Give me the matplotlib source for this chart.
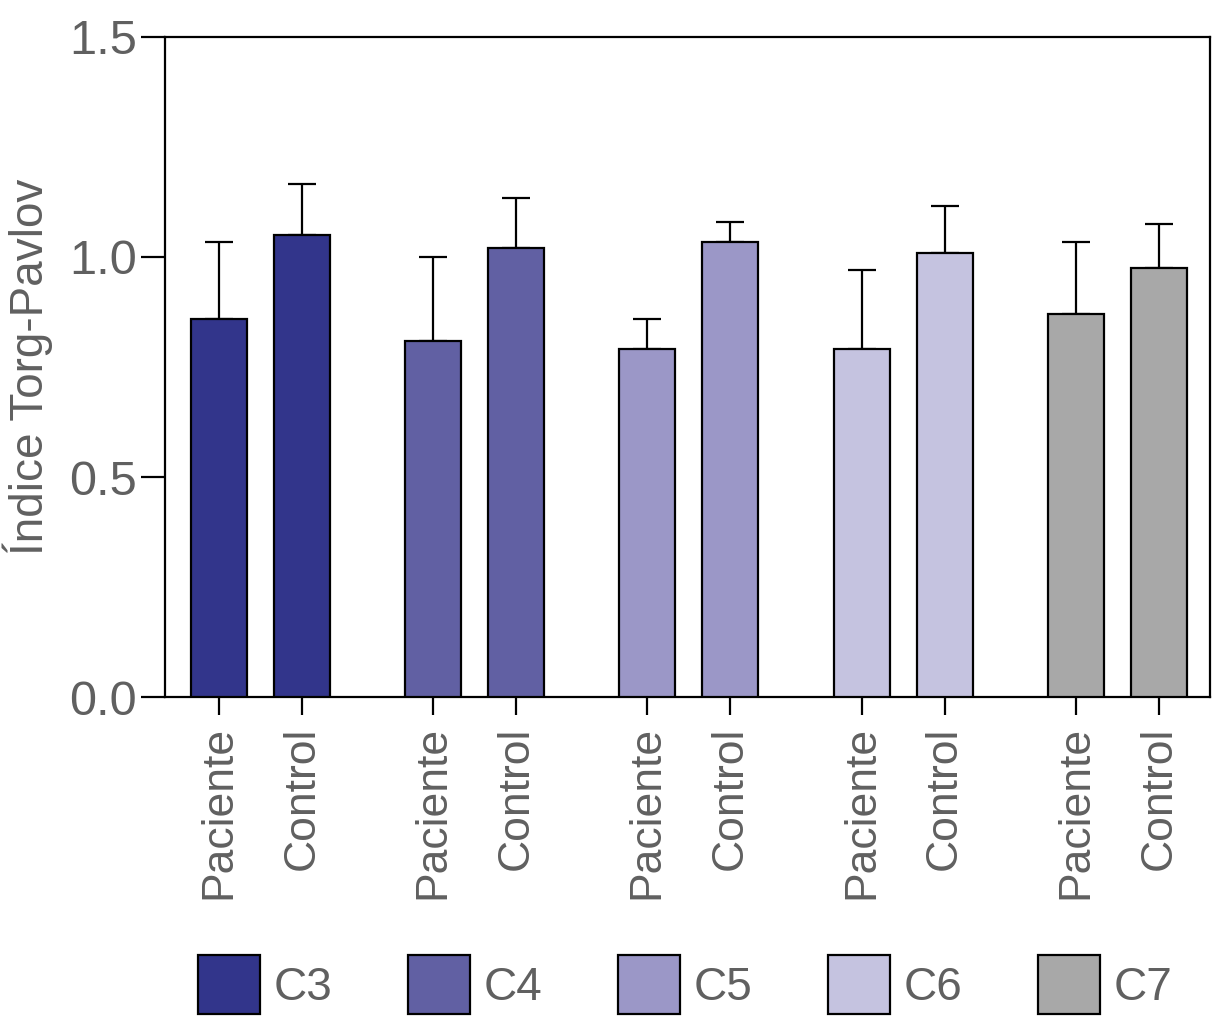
import matplotlib
matplotlib.use("Agg")
import matplotlib.pyplot as plt
from matplotlib.patches import Patch
import numpy as np

plt.rcParams["font.family"] = ["Liberation Sans Narrow", "Liberation Sans", "DejaVu Sans"]

groups = ["C3", "C4", "C5", "C6", "C7"]
conditions = ["Paciente", "Control"]
colors = ["#32358b", "#6160a3", "#9b97c7", "#c5c3e0", "#a8a8a8"]
means_paciente = [0.86, 0.81, 0.79, 0.79, 0.87]
means_control = [1.05, 1.02, 1.035, 1.01, 0.975]
err_paciente = [0.175, 0.19, 0.07, 0.18, 0.165]
err_control = [0.115, 0.115, 0.045, 0.105, 0.10]

TXT = "#606060"
GAP = 2.58
W = 0.675

fig = plt.figure(figsize=(12.12, 10.24), dpi=100)
ax = fig.add_axes([0.1361, 0.3193, 0.8625, 0.6446])

xs, labels = [], []
for i, g in enumerate(groups):
    for j, (m, e) in enumerate(((means_paciente[i], err_paciente[i]),
                                (means_control[i], err_control[i]))):
        x = i * GAP + j
        ax.bar(x, m, W, color=colors[i], edgecolor="black", linewidth=1.6, zorder=3)
        ax.errorbar(x, m, yerr=[[0], [e]], fmt="none", ecolor="black",
                    elinewidth=1.6, capsize=10, capthick=1.6, zorder=2)
        xs.append(x)
        labels.append(conditions[j])

ax.set_xticks(xs)
ax.set_xticklabels(labels, rotation=90, fontsize=32, color=TXT)
ax.set_xlim(-0.65, 11.94)
ax.set_ylim(0, 1.5)
ax.set_yticks([0.0, 0.5, 1.0, 1.5])
ax.set_yticklabels(["0.0", "0.5", "1.0", "1.5"], fontsize=35, color=TXT)
ax.set_ylabel("Índice Torg-Pavlov", fontsize=33, color=TXT, labelpad=12)
ax.tick_params(axis="y", length=17, width=1.6, pad=3)
ax.tick_params(axis="x", length=13, width=1.6, pad=8)
for s in ax.spines.values():
    s.set_linewidth(1.6)

handles = [Patch(facecolor=c, edgecolor="black", linewidth=1.6) for c in colors]
fig.legend(handles, groups, loc="lower left", bbox_to_anchor=(0.133, -0.026),
           ncol=5, frameon=False, fontsize=33, labelcolor=TXT,
           handlelength=1.35, handleheight=1.6, handletextpad=0.3,
           columnspacing=1.65, borderpad=0.3)

fig.savefig("out.png")
